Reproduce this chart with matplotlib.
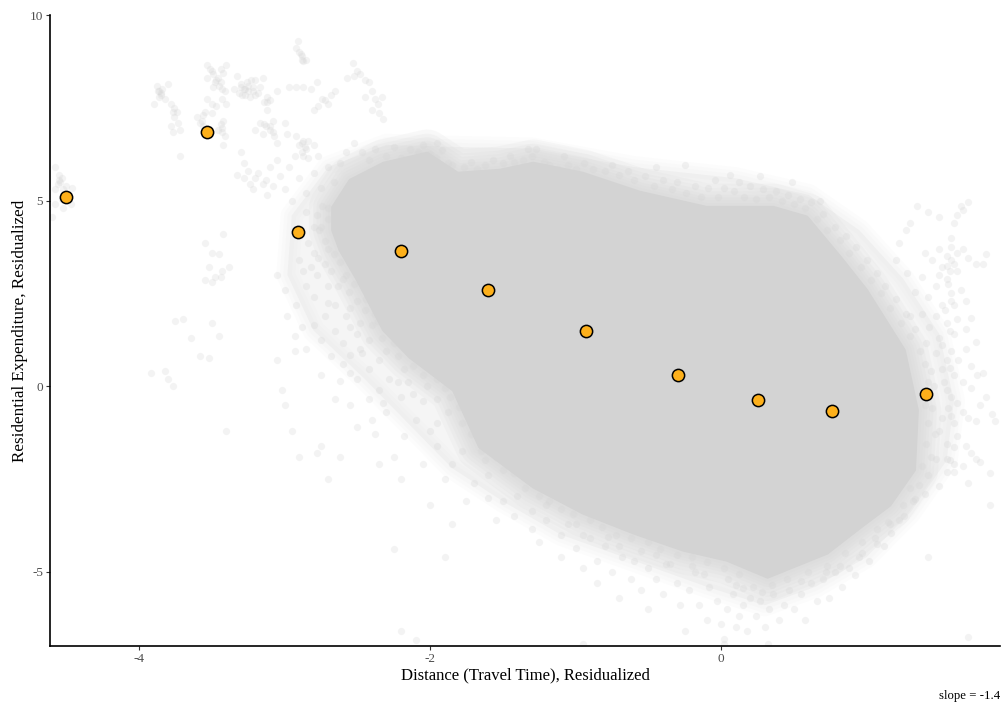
import matplotlib
matplotlib.use("Agg")
import matplotlib.pyplot as plt
from matplotlib.patches import Polygon

plt.rcParams['font.family'] = ['Liberation Serif', 'DejaVu Serif']

binned_x = [-4.505, -3.536, -2.91, -2.2, -1.6, -0.93, -0.295, 0.255, 0.763, 1.41]
binned_y = [5.09, 6.85, 4.15, 3.64, 2.59, 1.48, 0.30, -0.38, -0.67, -0.22]

core_x = [-2.67,-2.67,-2.55,-2.32,-2.02,-1.81,-1.52,-1.29,-0.95,-0.56,-0.10,0.36,0.59,0.82,1.00,1.26,1.35,1.33,1.16,0.96,0.73,0.32,0.04,-0.26,-0.60,-0.95,-1.29,-1.66,-1.84,-2.14,-2.32,-2.50,-2.62]
core_y = [4.2,4.82,5.55,6.01,6.28,5.74,5.82,6.01,5.74,5.23,4.82,4.82,4.56,3.48,2.59,0.97,-0.65,-2.26,-3.21,-3.80,-4.50,-5.15,-4.69,-4.42,-3.96,-3.42,-2.72,-1.64,-0.11,0.78,1.51,2.86,3.67]

fringe_x = [-2.95,-2.7,-2.3,-1.9,-1.3,-0.6,0.1,0.6,0.95,1.25,1.5,1.6,1.55,1.3,1.0,0.65,0.3,-0.1,-0.6,-1.1,-1.5,-1.85,-2.15,-2.45,-2.8,-2.98]
fringe_y = [4.6,5.9,6.5,6.45,6.4,5.9,5.6,5.15,4.2,2.9,1.4,-0.4,-2.0,-3.4,-4.6,-5.4,-5.9,-5.4,-4.7,-4.0,-3.1,-2.2,-1.0,0.2,1.5,3.0]

upper_points = [
(-4.58,5.9),(-4.55,5.7),(-4.53,5.6),(-4.56,5.45),(-4.5,5.4),(-4.46,5.35),(-4.58,5.3),(-4.52,5.3),(-4.58,4.9),(-4.52,4.8),(-4.47,4.9),(-4.53,5.05),(-4.6,4.55),(-4.55,5.55),(-4.54,5.5),
(-3.87,7.95),(-3.85,7.9),(-3.84,8.0),(-3.86,7.8),(-3.82,7.75),(-3.9,7.6),(-3.78,7.6),(-3.77,7.4),(-3.74,7.4),(-3.76,7.25),(-3.78,7.0),(-3.73,7.1),(-3.77,6.85),(-3.72,6.9),(-3.8,8.15),(-3.88,8.1),(-3.72,6.2),(-3.86,7.95),(-3.85,7.85),(-3.76,7.5),
(-3.53,8.65),(-3.51,8.55),(-3.49,8.4),(-3.53,8.3),(-3.47,8.25),(-3.44,8.55),(-3.42,8.45),(-3.4,8.65),(-3.45,8.1),(-3.49,8.05),(-3.41,7.95),(-3.43,7.75),(-3.4,7.6),(-3.53,7.75),(-3.5,7.6),(-3.47,7.55),(-3.55,7.4),(-3.5,7.35),(-3.58,7.1),(-3.6,7.25),(-3.56,7.3),(-3.44,7.05),(-3.43,6.85),(-3.41,6.75),(-3.46,6.9),(-3.42,6.5),(-3.5,8.5),(-3.48,8.2),(-3.46,8.3),(-3.44,8.2),(-3.43,8.0),(-3.57,7.15),(-3.56,7.0),(-3.43,6.95),(-3.42,7.15),
(-3.33,8.35),(-3.3,8.15),(-3.28,8.0),(-3.25,8.1),(-3.22,7.95),(-3.2,8.25),(-3.27,7.85),(-3.31,7.9),(-3.24,7.8),(-3.17,8.05),(-3.15,8.3),(-3.35,8.0),(-3.12,7.8),(-3.14,7.65),(-3.1,7.7),(-3.12,7.45),(-3.05,7.95),(-2.97,8.05),(-2.92,8.05),(-2.87,8.05),(-2.82,8.0),(-2.78,8.2),(-3.27,8.0),(-3.25,7.95),(-3.29,7.85),(-3.22,8.05),(-3.2,7.85),(-3.26,8.2),(-3.12,7.65),(-3.3,8.05),(-3.18,7.9),(-3.23,8.25),
(-2.74,7.75),(-2.7,7.6),(-2.68,7.85),(-2.65,7.95),(-2.77,7.55),(-2.8,7.45),(-2.72,7.7),
(-2.92,9.1),(-2.9,9.0),(-2.88,8.9),(-2.87,8.75),(-2.91,9.3),(-2.85,8.8),(-2.89,8.95),(-2.88,8.8),
(-2.53,8.7),(-2.5,8.5),(-2.48,8.4),(-2.45,8.25),(-2.52,8.35),(-2.42,8.2),(-2.4,7.95),(-2.38,7.75),(-2.36,7.6),(-2.4,7.45),(-2.33,7.8),(-2.35,7.35),(-2.32,7.2),(-2.57,8.3),(-2.45,7.8),
(-3.17,7.1),(-3.13,7.0),(-3.1,6.9),(-3.07,6.75),(-3.05,6.55),(-3.2,6.9),(-3.15,6.8),(-3.08,7.15),(-3.0,7.1),(-2.98,6.8),(-2.92,6.75),(-2.87,6.6),(-2.85,6.4),(-2.88,6.3),(-2.84,6.15),(-2.9,6.5),(-2.93,6.2),(-2.8,6.5),(-2.77,6.2),(-3.14,7.05),(-3.1,7.0),(-3.08,6.85),(-2.88,6.55),(-2.86,6.45),(-2.84,6.6),(-2.87,6.2),
(-3.3,6.3),(-3.28,6.0),(-3.25,5.8),(-3.2,5.6),(-3.15,5.45),(-3.1,5.9),(-3.05,6.1),(-3.03,5.65),(-3.0,5.3),(-2.97,5.9),(-2.9,5.6),(-2.85,5.2),(-2.8,5.75),(-2.75,5.35),(-3.33,5.7),(-3.22,5.3),(-3.12,5.15),(-2.95,5.0),(-2.7,5.9),(-2.66,5.5),(-2.62,6.0),(-2.58,6.3),(-2.52,6.55),(-2.47,6.3),(-2.7,4.8),(-2.78,4.6),(-2.85,4.7),(-2.75,4.3),(-3.28,5.6),(-3.24,5.45),(-3.18,5.75),(-3.13,5.55),(-3.08,5.4),
]

top_edge_points = [
(-2.42,6.1),(-2.38,6.4),(-2.3,6.2),(-2.25,6.45),(-2.2,6.15),(-2.14,6.4),(-2.08,6.3),(-2.05,6.5),(-2.0,6.25),(-1.96,6.15),(-1.92,6.35),(-1.88,6.0),(-1.85,5.95),(-1.77,5.9),(-1.72,6.05),(-1.68,5.85),(-1.62,5.95),(-1.57,6.1),(-1.5,6.0),(-1.45,6.2),(-1.42,6.05),(-1.36,6.1),(-1.33,6.4),(-1.3,6.2),(-1.27,6.4),(-1.22,6.05),(-1.18,5.95),(-1.12,5.85),(-1.05,5.95),(-1.0,5.85),(-0.94,6.0),(-0.88,5.85),(-0.8,5.8),(-0.75,5.95),(-0.7,5.7),(-0.64,5.8),(-0.6,5.55),(-0.52,5.65),(-0.46,5.4),(-0.4,5.55),(-0.34,5.3),(-0.3,5.5),(-0.24,5.2),(-0.18,5.4),(-0.14,5.1),(-0.09,5.35),(-0.04,5.55),(-0.02,5.1),(0.02,5.35),(0.06,5.7),(0.09,5.25),(0.12,5.5),(0.16,5.1),(0.2,5.4),(0.24,5.05),(0.29,5.3),(0.33,5.1),(0.38,5.25),(0.42,5.0),(0.46,5.15),(0.5,4.9),(0.54,5.05),(0.58,4.8),(0.62,4.95),(0.66,4.5),(0.7,4.65),(0.73,4.2),(0.78,4.3),(0.82,3.95),(0.86,4.05),(0.88,3.6),(0.93,3.75),(0.96,3.2),(1.0,3.4),(1.03,2.85),(1.07,3.05),(1.1,2.5),(1.13,2.7),(1.16,2.1),(1.2,2.35),(1.24,1.7),(1.27,1.95),(1.3,1.35),(1.33,1.55),(1.37,0.95),(1.41,1.15),(1.4,0.6),(1.44,0.4),(1.42,0.1),(1.46,0.0),(1.4,-0.5),(1.45,-0.6),(1.42,-1.0),(1.47,-1.3),(1.41,-1.55),(1.44,-1.9),(1.38,-2.15),(1.42,-2.4),(1.36,-2.65),(1.3,-2.75),(1.33,-3.05),(1.25,-3.2),(1.26,-3.5),(1.15,-3.65),(1.17,-3.95),(1.07,-3.85),(1.07,-4.25),(0.97,-4.2),(0.95,-4.6),(0.85,-4.5),(0.82,-4.85),(0.73,-4.85),
(-0.25,5.95),(-0.45,5.9),(0.27,5.65),(0.49,5.5),(0.68,5.0),(-1.08,6.2),(-1.95,6.55),
]

left_points = [
(-3.42,4.1),(-3.55,3.85),(-3.5,3.6),(-3.45,3.55),(-3.52,3.2),(-3.48,2.95),(-3.44,2.95),(-3.55,2.85),(-3.5,2.8),(-3.43,3.1),(-3.38,3.2),(-3.75,1.75),(-3.7,1.8),(-3.5,1.7),(-3.45,1.35),(-3.64,1.3),(-3.58,0.8),(-3.52,0.75),(-3.92,0.35),(-3.82,0.4),(-3.8,0.2),(-3.77,0.0),(-3.4,-1.2),
(-3.05,3.0),(-3.0,2.6),(-2.98,1.9),(-3.05,0.7),(-3.02,-0.1),(-3.0,-0.5),(-2.95,-1.2),(-2.9,-1.9),(-2.78,-1.8),(-2.75,-1.6),(-2.7,-2.5),(-2.62,-1.9),
(-2.9,3.4),(-2.87,3.1),(-2.8,3.6),(-2.78,3.0),(-2.72,3.3),(-2.85,2.7),(-2.92,2.2),(-2.8,2.4),(-2.7,2.7),(-2.65,2.2),(-2.6,2.9),(-2.72,1.9),(-2.8,1.65),(-2.88,1.6),(-2.93,1.35),(-2.65,1.5),(-2.58,1.9),(-2.75,1.25),(-2.85,1.0),(-2.93,0.95),(-2.6,1.15),(-2.5,1.4),(-2.68,0.8),(-2.6,0.6),(-2.55,0.85),(-2.47,0.9),(-2.42,1.25),(-2.75,0.3),(-2.62,0.15),(-2.5,0.2),(-2.42,0.45),(-2.35,0.7),(-2.65,-0.35),(-2.55,-0.5),(-2.42,-0.35),(-2.35,-0.1),(-2.28,0.2),(-2.5,-1.1),(-2.38,-1.3),(-2.4,-0.9),(-2.3,-0.7),(-2.2,-0.3),(-2.15,0.1),(-2.35,-2.1),(-2.25,-1.9),(-2.18,-1.35),(-2.1,-0.9),(-2.05,-0.4),(-2.2,-2.5),(-2.05,-2.1),(-1.95,-1.6),(-1.95,-1.0),(-2.0,-3.2),(-1.9,-2.5),(-1.85,-2.1),(-1.78,-1.75),(-2.25,-4.4),(-1.9,-4.6),(-1.85,-3.7),(-1.75,-3.1),(-1.7,-2.6),(-1.6,-2.4),
(-2.72,3.9),(-2.76,4.2),(-2.7,4.5),(-2.74,4.85),(-2.8,4.3),(-2.84,3.85),(-2.77,3.45),(-2.68,3.1),(-2.66,3.55),(-2.7,3.7),(-2.62,3.35),(-2.58,3.0),(-2.63,2.7),(-2.56,2.55),(-2.5,2.3),(-2.55,2.1),(-2.45,2.05),(-2.48,1.7),(-2.4,1.65),(-2.38,1.95),(-2.45,2.6),(-2.52,2.75),(-2.44,2.35),(-2.36,1.75),(-2.33,1.3),(-2.28,1.55),(-2.25,1.15),(-2.2,1.3),(-2.3,0.95),(-2.22,0.8),(-2.15,0.95),(-2.12,0.55),(-2.18,0.45),(-2.08,0.7),(-2.05,0.3),(-2.0,0.55),(-1.95,0.2),(-2.02,0.0),(-1.9,0.35),(-1.9,-0.05),(-1.86,-0.3),(-1.95,-0.35),(-1.88,-0.7),(-1.8,-0.55),(-1.78,-1.0),(-1.72,-1.3),(-1.72,-0.9),(-1.65,-1.75),(-1.62,-2.0),(-1.55,-1.9),(-1.5,-2.25),(-1.42,-2.35),(-1.35,-2.75),(-1.25,-2.95),(-1.18,-3.1),(-1.1,-3.3),(-1.02,-3.45),(-0.9,-3.6),(-0.82,-3.8),(-0.72,-4.0),(-0.62,-4.1),(-0.5,-4.2),(-0.42,-4.4),(-0.3,-4.55),(-0.2,-4.6),(-0.1,-4.75),(0.02,-4.9),(0.12,-5.05),
(-2.0,-1.2),(-2.12,-0.2),(-2.22,0.1),(-2.48,1.0),(-2.55,1.6),(-2.7,2.25),(-2.82,3.2),(-2.55,0.35),(-2.32,-0.45),
]

lower_points = [
(-1.6,-3.0),(-1.55,-3.6),(-1.5,-3.1),(-1.42,-3.5),(-1.4,-2.95),(-1.3,-3.35),(-1.3,-3.85),(-1.25,-4.2),(-1.2,-3.6),(-1.1,-4.0),(-1.1,-4.6),(-1.05,-3.7),(-1.0,-4.35),(-0.95,-4.9),(-0.95,-4.0),(-0.85,-4.7),(-0.85,-5.3),(-0.8,-4.3),(-0.75,-5.0),(-0.7,-5.7),(-0.68,-4.6),(-0.62,-5.2),(-0.6,-4.7),(-0.55,-5.5),(-0.5,-4.9),(-0.5,-6.0),(-0.45,-5.2),(-0.4,-5.6),(-0.38,-4.8),(-0.3,-5.3),(-0.28,-5.9),(-0.25,-6.6),(-0.22,-5.5),(-0.18,-5.0),(-0.15,-5.9),(-0.1,-6.3),(-0.08,-5.4),(-0.03,-5.8),(0.0,-6.4),(0.02,-6.8),(0.04,-6.0),(0.08,-5.6),(0.1,-6.5),(0.12,-6.2),(0.15,-5.9),(0.18,-6.6),(0.2,-5.7),(0.24,-6.2),(0.27,-5.8),(0.3,-6.5),(0.33,-6.0),(0.36,-5.6),(0.4,-6.3),(0.43,-5.9),(0.47,-5.5),(0.5,-6.0),(0.55,-5.6),(0.58,-6.3),(0.62,-5.3),(0.66,-5.8),(0.7,-5.2),(0.74,-5.7),(0.78,-5.0),(0.83,-5.4),(0.88,-4.9),(0.92,-5.1),(0.97,-4.5),(1.02,-4.7),(1.06,-4.1),(1.12,-4.3),(1.16,-3.7),(1.22,-3.6),(1.32,-3.1),(1.4,-2.9),(1.5,-2.7),(1.55,-2.3),(1.6,-2.1),
(0.32,-6.95),(0.02,-6.95),(1.42,-4.6),(1.7,-6.75),(-0.95,-6.95),(-2.2,-6.6),(-2.1,-6.85),
(-1.2,-3.2),(-1.0,-3.7),(-0.78,-4.05),(-0.55,-4.45),(-0.35,-4.8),(-0.12,-5.05),(0.1,-5.35),(0.22,-5.4),(0.35,-5.35),(0.45,-5.2),(0.6,-5.0),(0.72,-5.0),(0.15,-5.45),(0.28,-5.55),(0.05,-5.2),(-0.2,-4.85),(-0.45,-4.55),(-0.7,-4.3),(-0.9,-4.1),(0.55,-5.25),
]

right_points = [
(1.4,3.6),(1.45,3.4),(1.5,3.7),(1.52,3.2),(1.55,3.5),(1.58,3.75),(1.5,3.0),(1.55,2.9),(1.6,3.3),(1.62,3.6),(1.66,3.7),(1.7,3.45),(1.75,3.3),(1.8,3.3),(1.82,3.55),(1.58,2.5),(1.52,2.2),(1.6,2.2),(1.65,2.6),(1.68,2.3),(1.48,1.9),(1.55,1.7),(1.62,1.8),(1.6,1.4),(1.68,1.55),(1.72,1.85),(1.75,1.2),(1.5,1.3),(1.58,0.95),(1.63,0.7),(1.68,1.0),(1.72,0.55),(1.48,0.9),(1.52,0.45),(1.6,0.3),(1.66,0.1),(1.72,-0.05),(1.76,0.3),(1.8,0.35),(1.58,-0.3),(1.62,-0.45),(1.66,-0.7),(1.7,-0.85),(1.75,-0.95),(1.78,-0.5),(1.82,-0.3),(1.86,-0.75),(1.88,-0.95),(1.52,-0.85),(1.6,-1.0),(1.62,-1.35),(1.68,-1.6),(1.72,-1.8),(1.55,-1.55),(1.6,-2.3),(1.66,-2.15),(1.7,-2.6),(1.75,-1.95),(1.78,-2.05),(1.85,-2.35),(1.85,-3.2),
(1.58,4.0),(1.65,4.85),(1.62,4.6),(1.6,4.4),(1.66,4.75),(1.7,4.95),(1.5,4.55),(1.42,4.7),(1.35,4.85),(1.3,4.4),(1.27,4.2),(1.22,3.85),(1.2,3.4),(1.28,3.05),(1.38,2.95),(1.33,2.55),(1.42,2.4),(1.38,1.95),(1.43,1.6),(1.3,1.9),
(1.62,3.1),(1.55,3.25),(1.48,2.7),(1.53,0.1),(1.56,-0.6),(1.5,-1.2),(1.48,-1.95),(1.55,-1.95),
(1.58,3.4),(1.57,3.1),(1.56,2.75),(1.58,2.3),(1.54,2.05),(1.57,1.5),(1.52,1.1),(1.55,0.7),(1.57,0.5),(1.55,-0.1),(1.58,-0.8),(1.6,-1.65),(1.57,-2.0),
]

fig = plt.figure(figsize=(10.08, 7.09), dpi=100)
ax = fig.add_axes([50/1008, 63/709, 950/1008, 631/709])

grey = '#d3d3d3'
core_outline = list(zip(core_x, core_y))
fringe_outline = list(zip(fringe_x, fringe_y))

# thin wash over the speckled fringe, with softened edges
ax.add_patch(Polygon(fringe_outline, closed=True, fc=grey, ec='none', alpha=0.22, zorder=1))
for width in (16, 11, 6):
    ax.add_patch(Polygon(fringe_outline, closed=True, fc='none', ec=grey, lw=width, alpha=0.06,
                         joinstyle='round', zorder=1))
# soft halo round the solid mass: stacked rounded strokes of falling width
for width in (34, 28, 23, 18, 14, 10, 6):
    ax.add_patch(Polygon(core_outline, closed=True, fc='none', ec=grey, lw=width, alpha=0.14,
                         joinstyle='round', zorder=1))

for pts in (upper_points, top_edge_points, left_points, lower_points, right_points):
    ax.scatter([p[0] for p in pts], [p[1] for p in pts], s=27, c=grey, alpha=0.27, linewidths=0, zorder=2)

ax.add_patch(Polygon(core_outline, closed=True, fc=grey, ec=grey, lw=2, joinstyle='round', zorder=3))

ax.scatter(binned_x, binned_y, s=78, c='#FDB01B', edgecolors='black', linewidths=1.1, zorder=5)

ax.set_xlim(-4.612, 1.917)
ax.set_ylim(-7.0, 10.0)
ax.set_xticks([-4, -2, 0])
ax.set_yticks([-5, 0, 5, 10])
ax.set_xticklabels(['-4', '-2', '0'])
ax.set_yticklabels(['-5', '0', '5', '10'])
ax.tick_params(axis='both', length=3, width=0.8, color='#333333', labelcolor='#4d4d4d', labelsize=9.5, pad=2)
for s in ('top', 'right'):
    ax.spines[s].set_visible(False)
for s in ('left', 'bottom'):
    ax.spines[s].set_linewidth(1.2)
ax.set_xlabel('Distance (Travel Time), Residualized', fontsize=12, color='black', labelpad=2)
ax.set_ylabel('Residential Expenditure, Residualized', fontsize=12.3, color='black', labelpad=1)
fig.text(1000/1008, 1 - 696/709, 'slope = -1.4', ha='right', va='center', fontsize=9.2, color='black')

fig.savefig('out.png', dpi=100)
